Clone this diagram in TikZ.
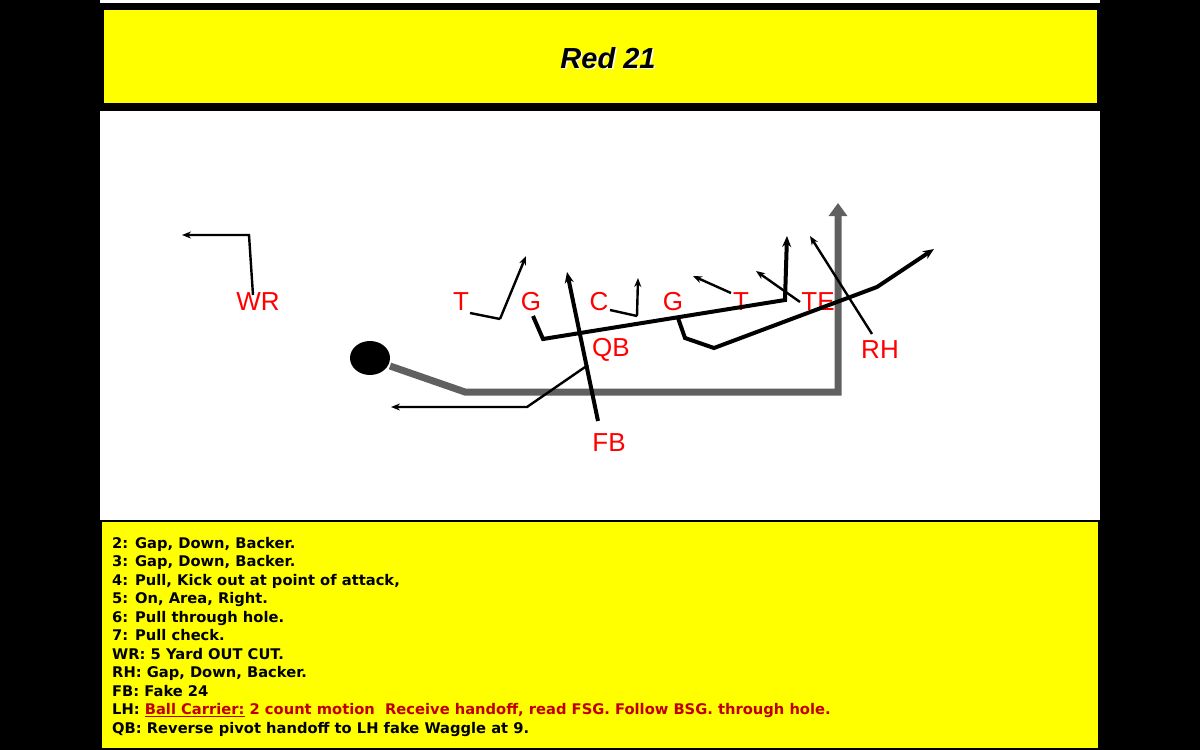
\documentclass[tikz,border=0pt]{standalone}
\usepackage{fontspec}
\setmainfont{Liberation Sans}
\newfontfamily\notesfont{DejaVu Sans}
\usetikzlibrary{arrows.meta}
\definecolor{yel}{RGB}{255,255,0}
\definecolor{dred}{RGB}{192,0,0}
\definecolor{gry}{RGB}{96,96,96}
\tikzset{
  lbl/.style={text=red,font=\fontsize{26}{26}\selectfont,inner sep=0pt},
  thin/.style={line width=2.4pt,-{Stealth[length=9pt,width=7pt]}},
  thick/.style={line width=4pt,-{Stealth[length=11pt,width=9pt]}},
  plain/.style={line width=2.4pt},
  plainthick/.style={line width=4pt}
}
\begin{document}
\begin{tikzpicture}[x=1pt,y=-1pt]
\useasboundingbox (0,0) rectangle (1200,750);
\fill[black] (0,0) rectangle (1200,750);
\fill[white] (100,0) rectangle (1100,3);
\fill[yel] (104,10) rectangle (1097,103);
\fill[white] (100,111) rectangle (1100,520);
\fill[yel] (102,522) rectangle (1098,748);
\node[text=white,font=\fontsize{29}{29}\selectfont\bfseries\itshape] at (609.5,59.5) {Red 21};
\node (title) [text=black,font=\fontsize{29}{29}\selectfont\bfseries\itshape] at (608,58) {Red 21};
% labels
\node[lbl] (wr) at (258,302) {WR};
\node[lbl] (lt) at (461,302) {T};
\node[lbl] (lg) at (531,302) {G};
\node[lbl] (c) at (599,302) {C};
\node[lbl] (rg) at (673,302) {G};
\node[lbl] (rt) at (741,302) {T};
\node[lbl] (te) at (818,302) {TE};
\node[lbl] (qb) at (611,350) {QB};
\node[lbl] (rh) at (880,350) {RH};
\node[lbl] (fb) at (609,443) {FB};
% ball
\fill[black] (370,358) circle[x radius=20pt,y radius=17pt];
\coordinate (ball) at (390,366);
\draw[gry,line width=7pt,-{Triangle[length=13pt,width=18pt]}] (ball) -- (465,392) -- (838,392) -- (838,203);
% WR
\draw[thin] (253,295) -- (249,235) -- (182,235);
% LH
\draw[thin] (588,365) -- (527,407) -- (391,407);
% FB
\draw[thick] (598,421) -- (567,272);
% left T
\draw[plain] (470,313) -- (500,319);
\draw[thin] (500,319) -- (526,256);
% left G
\draw[thick] (533,316) -- (543,339) -- (785,300) -- (787,236);
% C
\draw[plain] (610,310) -- (637,316);
\draw[thin] (637,316) -- (638,278);
% right G
\draw[thick] (678,318) -- (685,338) -- (714,348) -- (877,287) -- (934,249);
% T
\draw[thin] (731,293) -- (693,276);
% TE
\draw[thin] (800,302) -- (756,271);
% RH
\draw[thin] (872,334) -- (810,236);
% text
\node[anchor=north west,align=left,inner sep=0pt,font=\notesfont\fontsize{14.7}{18.5}\selectfont\bfseries] (notes) at (112,537) {%
2: Gap, Down, Backer.\\
3: Gap, Down, Backer.\\
4: Pull, Kick out at point of attack,\\
5: On, Area, Right.\\
6: Pull through hole.\\
7: Pull check.\\
WR: 5 Yard OUT CUT.\\
RH: Gap, Down, Backer.\\
FB: Fake 24\\
LH: \textcolor{dred}{\underline{Ball Carrier:} 2 count motion\ \ Receive handoff, read FSG. Follow BSG. through hole.}\\
QB: Reverse pivot handoff to LH fake Waggle at 9.};
\end{tikzpicture}
\end{document}
